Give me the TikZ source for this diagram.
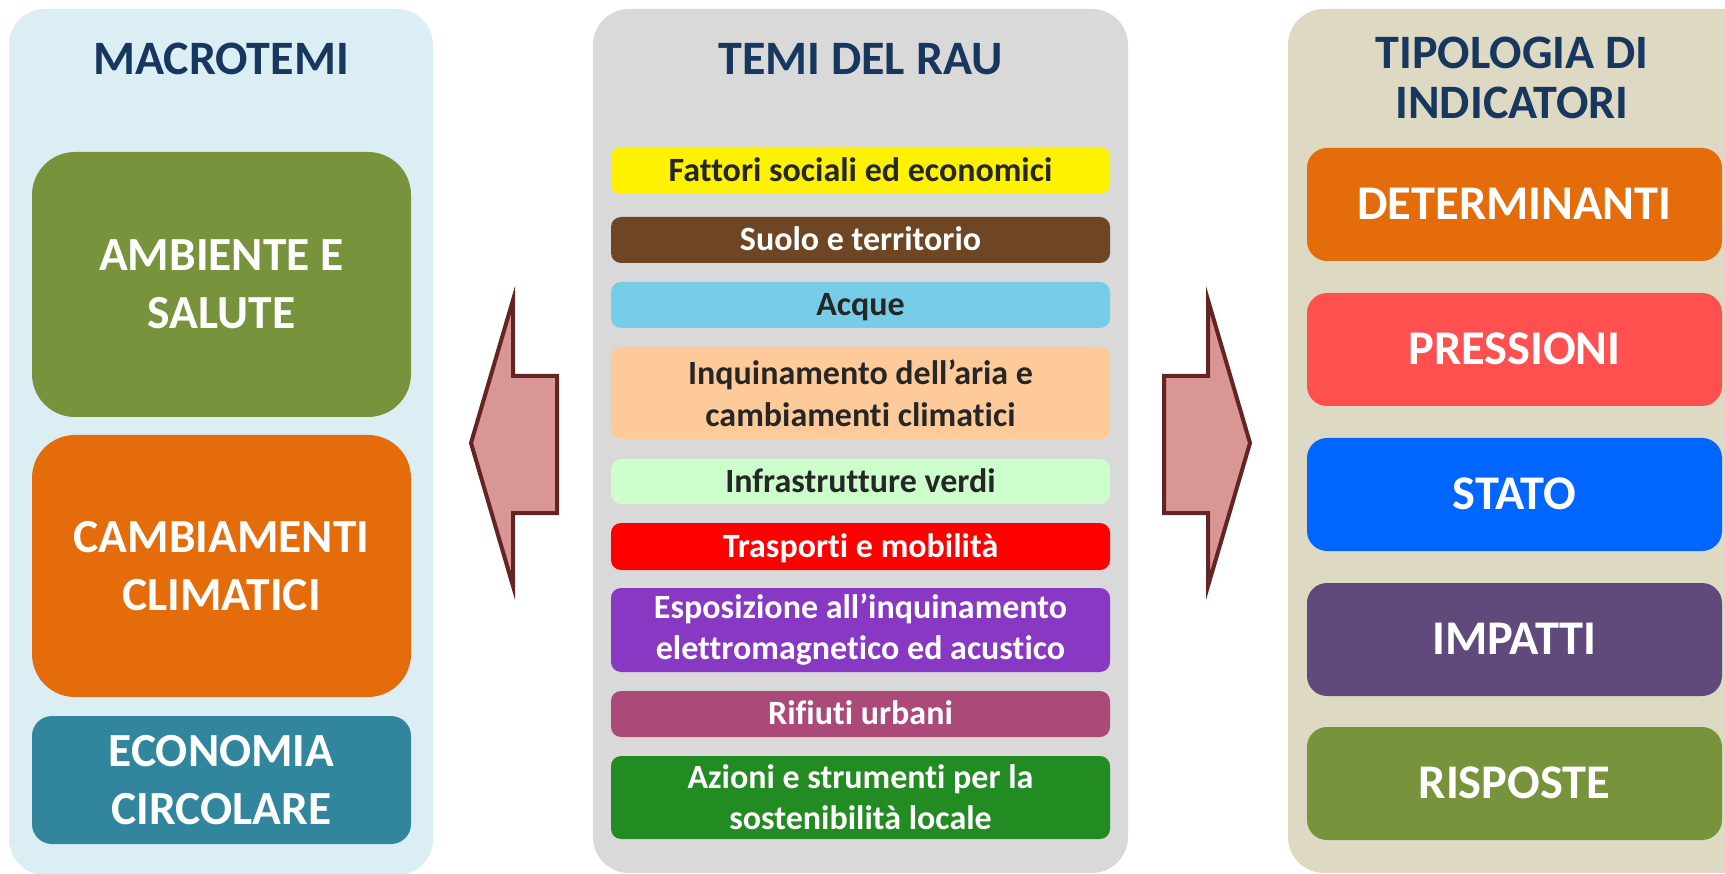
\documentclass[tikz,border=0pt]{standalone}
\usepackage{fontspec}
\setmainfont{Carlito}[Ligatures={NoCommon}]
\definecolor{titleblue}{HTML}{17375E}
\definecolor{bgblue}{HTML}{DBEEF4}
\definecolor{bggray}{HTML}{D9D9D9}
\definecolor{bgbeige}{HTML}{DDD9C3}
\definecolor{olive}{HTML}{77933C}
\definecolor{orng}{HTML}{E46C0A}
\definecolor{teal2}{HTML}{31859C}
\definecolor{brown2}{HTML}{6F4624}
\definecolor{sky}{HTML}{77CCE8}
\definecolor{peach}{HTML}{FFCA99}
\definecolor{mint}{HTML}{CCFFCC}
\definecolor{purp}{HTML}{8838C2}
\definecolor{plum}{HTML}{AB4A78}
\definecolor{fgreen}{HTML}{228B22}
\definecolor{dark}{HTML}{262626}
\definecolor{pres}{HTML}{FF5050}
\definecolor{stato}{HTML}{0066FF}
\definecolor{imp}{HTML}{604A7B}
\definecolor{arrfill}{HTML}{D99694}
\definecolor{arrline}{HTML}{632523}
\begin{document}
\begin{tikzpicture}[x=1pt,y=-1pt,
  panel/.style={rectangle, rounded corners=36, inner sep=0pt},
  title/.style={text=titleblue, align=center, font=\bfseries\fontsize{48}{50}\selectfont},
  bigbox/.style={rectangle, inner sep=0pt, minimum width=379, text=white, align=center,
    font=\bfseries\fontsize{47.5}{58}\selectfont},
  bar/.style={rectangle, rounded corners=10, inner sep=0pt, minimum width=499, align=center,
    font=\bfseries\fontsize{34}{41}\selectfont},
  oneline/.style={text height=21.5pt, text depth=0pt},
  indic/.style={rectangle, rounded corners=20, inner sep=0pt, minimum width=415, minimum height=113,
    text=white, font=\bfseries\fontsize{48.4}{56}\selectfont, text height=30.6pt, text depth=0pt},
  blockarrow/.style={fill=arrfill, draw=arrline, line width=4pt, line join=miter}
]
\useasboundingbox (0,0) rectangle (1725,874);
\clip (0,0) rectangle (1725,874);
\fill[white] (0,0) rectangle (1725,874);

% panels
\node[panel, fill=bgblue, minimum width=424, minimum height=866] (pL) at (221,442) {};
\node[panel, fill=bggray, minimum width=535, minimum height=864] (pM) at (860.5,441) {};
\node[panel, fill=bgbeige, minimum width=480, minimum height=864] (pR) at (1528,441) {};

% titles
\node[title, anchor=base] (tL) at (221,75) {MACROTEMI};
\node[title, anchor=base] (tM) at (860.5,75) {TEMI DEL RAU};
\node[title] (tR) at (1512,77.5) {TIPOLOGIA DI\\INDICATORI};

% macrotemi
\node[bigbox, rounded corners=43, fill=olive, minimum height=265] (m1) at (221.5,284.5) {AMBIENTE E\\SALUTE};
\node[bigbox, rounded corners=43, fill=orng, minimum height=262] (m2) at (221.5,566) {CAMBIAMENTI\\CLIMATICI};
\node[bigbox, rounded corners=20, fill=teal2, minimum height=128] (m3) at (221.5,780) {ECONOMIA\\CIRCOLARE};

% temi del RAU
\node[bar, oneline, fill=yellow, text=dark, minimum height=47] (b1) at (860.5,170.5) {Fattori sociali ed economici};
\node[bar, oneline, fill=brown2, text=white, minimum height=46] (b2) at (860.5,240) {Suolo e territorio};
\node[bar, oneline, fill=sky, text=dark, minimum height=46] (b3) at (860.5,305) {Acque};
\node[bar, fill=peach, text=dark, minimum height=92, font=\bfseries\fontsize{34}{42}\selectfont] (b4) at (860.5,393) {Inquinamento dell’aria e\\cambiamenti climatici};
\node[bar, oneline, fill=mint, text=dark, minimum height=45] (b5) at (860.5,481.5) {Infrastrutture verdi};
\node[bar, oneline, fill=red, text=white, minimum height=47] (b6) at (860.5,546.5) {Trasporti e mobilità};
\node[bar, fill=purp, text=white, minimum height=84] (b7) at (860.5,630) {Esposizione all’inquinamento\\elettromagnetico ed acustico};
\node[bar, oneline, fill=plum, text=white, minimum height=46] (b8) at (860.5,714) {Rifiuti urbani};
\node[bar, fill=fgreen, text=white, minimum height=83] (b9) at (860.5,797.5) {Azioni e strumenti per la\\sostenibilità locale};

% tipologia di indicatori
\node[indic, fill=orng] (i1) at (1514.5,204.5) {DETERMINANTI};
\node[indic, fill=pres] (i2) at (1514.5,349.5) {PRESSIONI};
\node[indic, fill=stato] (i3) at (1514.5,494.5) {STATO};
\node[indic, fill=imp] (i4) at (1514.5,639.5) {IMPATTI};
\node[indic, fill=olive] (i5) at (1514.5,783.5) {RISPOSTE};

% block arrows
\draw[blockarrow] (557,376) -- (513,376) -- (513,300) -- (471,443) -- (513,586) -- (513,513) -- (557,513) -- cycle;
\draw[blockarrow] (1164,376) -- (1208,376) -- (1208,300) -- (1250,443) -- (1208,586) -- (1208,513) -- (1164,513) -- cycle;
\end{tikzpicture}
\end{document}
